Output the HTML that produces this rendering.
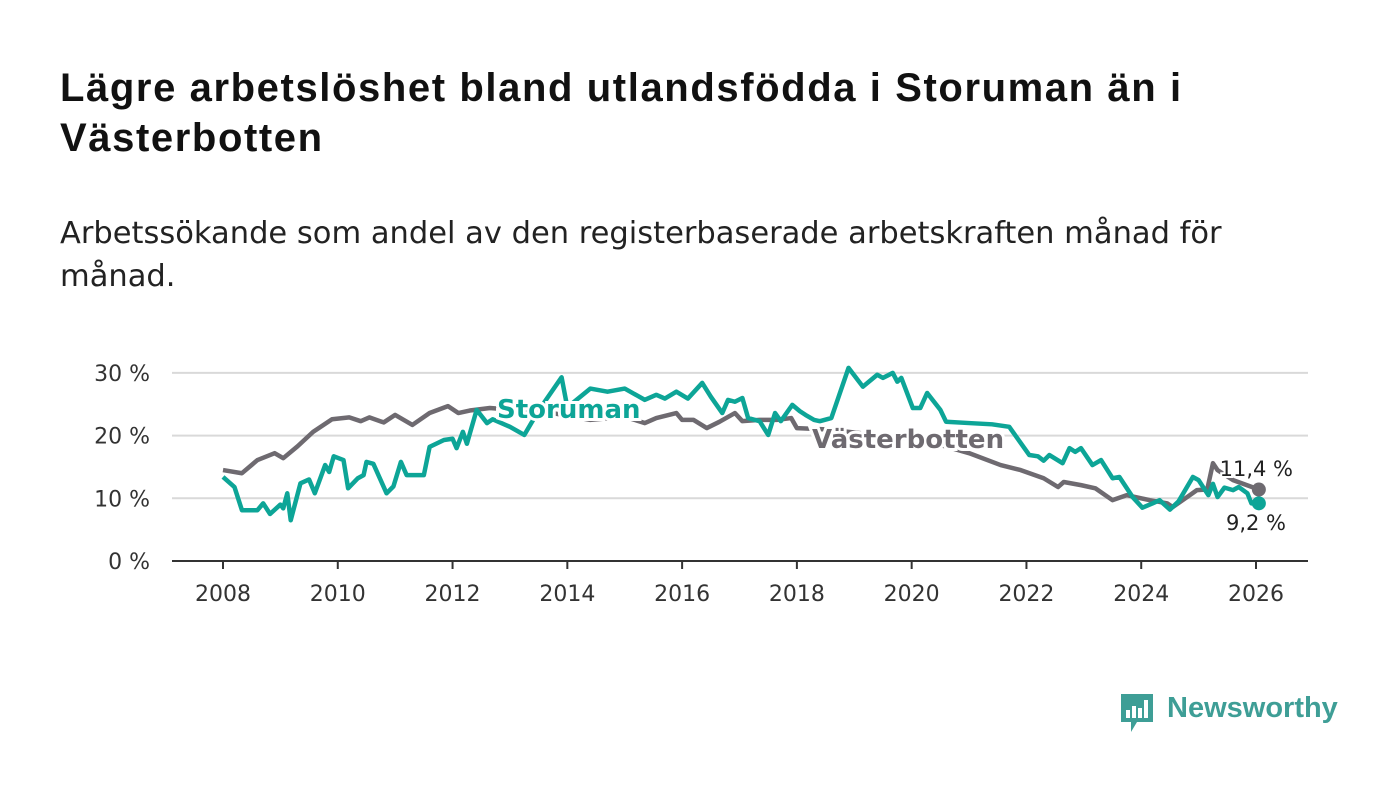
<!DOCTYPE html>
<html><head><meta charset="utf-8">
<style>
body{margin:0;background:#fff;width:1400px;height:794px;overflow:hidden;font-family:"Liberation Sans",sans-serif;}
#title{position:absolute;left:60px;top:63px;width:1180px;font-weight:bold;font-size:40px;letter-spacing:1.6px;line-height:50px;color:#111;}
#sub{position:absolute;left:60px;top:212px;width:1240px;font-family:"DejaVu Sans",sans-serif;font-size:30.5px;line-height:43px;color:#222;}
svg{position:absolute;left:0;top:0;}
</style></head><body>
<div id="title">Lägre arbetslöshet bland utlandsfödda i Storuman än i Västerbotten</div>
<div id="sub">Arbetssökande som andel av den registerbaserade arbetskraften månad för månad.</div>
<svg id="chart" width="1400" height="794"></svg>
<script>
const yTicks=[0,10,20,30];
const xTicks=[2008,2010,2012,2014,2016,2018,2020,2022,2024,2026];
const vbDates=[2008.0,2008.33,2008.6,2008.9,2009.05,2009.3,2009.57,2009.9,2010.2,2010.4,2010.55,2010.8,2011.0,2011.3,2011.6,2011.92,2012.1,2012.3,2012.65,2013.2,2013.8,2014.4,2015.0,2015.35,2015.55,2015.9,2016.0,2016.2,2016.43,2016.65,2016.92,2017.05,2017.35,2017.65,2017.9,2018.0,2018.5,2019.0,2019.5,2020.0,2020.5,2021.0,2021.55,2021.9,2022.3,2022.55,2022.65,2022.95,2023.2,2023.5,2023.75,2024.15,2024.45,2024.55,2024.8,2024.97,2025.15,2025.25,2025.33,2025.6,2026.05];
const vbValues=[14.5,14.0,16.1,17.2,16.4,18.3,20.6,22.6,22.9,22.3,22.9,22.1,23.3,21.7,23.6,24.7,23.6,24.0,24.4,24.0,23.5,22.5,23.0,22.0,22.8,23.6,22.5,22.5,21.2,22.2,23.6,22.3,22.5,22.5,22.8,21.2,21.0,20.5,20.0,19.5,18.5,17.2,15.3,14.5,13.2,11.8,12.6,12.1,11.6,9.7,10.5,9.7,9.2,8.6,10.2,11.3,11.4,15.6,14.5,12.9,11.4];
const stDates=[2008.0,2008.2,2008.33,2008.6,2008.7,2008.82,2009.0,2009.05,2009.12,2009.18,2009.35,2009.5,2009.6,2009.78,2009.85,2009.93,2010.1,2010.18,2010.35,2010.45,2010.5,2010.62,2010.85,2010.97,2011.1,2011.2,2011.5,2011.6,2011.85,2012.0,2012.07,2012.18,2012.25,2012.42,2012.6,2012.7,2013.0,2013.25,2013.5,2013.9,2014.0,2014.4,2014.7,2015.0,2015.35,2015.55,2015.7,2015.9,2016.1,2016.35,2016.5,2016.7,2016.8,2016.92,2017.05,2017.15,2017.35,2017.5,2017.62,2017.72,2017.92,2018.05,2018.15,2018.3,2018.4,2018.6,2018.9,2019.15,2019.4,2019.5,2019.67,2019.75,2019.82,2020.02,2020.15,2020.27,2020.5,2020.6,2021.0,2021.4,2021.7,2022.05,2022.2,2022.3,2022.4,2022.63,2022.75,2022.85,2022.95,2023.15,2023.3,2023.5,2023.62,2023.85,2024.02,2024.2,2024.32,2024.5,2024.65,2024.9,2025.0,2025.17,2025.25,2025.33,2025.45,2025.6,2025.7,2025.85,2025.92,2026.05];
const stValues=[13.4,11.8,8.1,8.1,9.2,7.5,9.0,8.4,10.8,6.5,12.4,13.0,10.8,15.3,14.2,16.7,16.1,11.6,13.2,13.7,15.8,15.5,10.8,11.9,15.8,13.7,13.7,18.2,19.3,19.5,18.0,20.6,18.7,24.1,22.0,22.6,21.4,20.1,24.0,29.3,24.5,27.5,27.0,27.5,25.7,26.5,25.9,27.0,25.9,28.4,26.2,23.6,25.7,25.4,26.0,22.8,22.3,20.1,23.6,22.3,24.9,23.9,23.3,22.5,22.3,22.8,30.8,27.8,29.7,29.2,30.0,28.6,29.2,24.4,24.4,26.8,24.1,22.2,22.0,21.8,21.4,16.9,16.7,16.0,16.9,15.6,18.0,17.4,18.0,15.3,16.1,13.2,13.4,10.2,8.5,9.2,9.7,8.2,9.5,13.4,12.9,10.5,12.3,10.2,11.7,11.3,11.8,10.8,9.2,9.2];

const svg=document.getElementById('chart');
const NS='http://www.w3.org/2000/svg';
const x0=223,x1=1256,y0=561,pxPerPct=6.27;
function X(d){return x0+(d-2008)/18*(x1-x0);}
function Y(v){return y0-v*pxPerPct;}
function mk(t,a){const e=document.createElementNS(NS,t);for(const k in a)e.setAttribute(k,a[k]);svg.appendChild(e);return e;}

yTicks.forEach(v=>{
  if(v>0){const g=mk('line',{x1:172,x2:1308,y1:Y(v),y2:Y(v),stroke:'#d9d9d9','stroke-width':2});
  
  }
  const t=mk('text',{x:150,y:Y(v)+8,'text-anchor':'end','font-family':'DejaVu Sans, sans-serif','font-size':22,fill:'#333'});
  t.textContent=v+' %';
  
  
});
const ax=mk('line',{x1:172,x2:1308,y1:y0,y2:y0,stroke:'#333','stroke-width':2});


xTicks.forEach(d=>{
  const tk=mk('line',{x1:X(d),x2:X(d),y1:y0,y2:y0+8,stroke:'#333','stroke-width':2});
  
  
  const t=mk('text',{x:X(d),y:601,'text-anchor':'middle','font-family':'DejaVu Sans, sans-serif','font-size':22,fill:'#333'});
  t.textContent=d;
  
  
});
function line(dates,vals,col,name){
  const p=mk('polyline',{points:dates.map((d,i)=>X(d)+','+Y(vals[i])).join(' '),fill:'none',stroke:col,'stroke-width':4.5,'stroke-linejoin':'round'});
  
  
}
line(vbDates,vbValues,'#6e6a70','vasterbotten-line');
line(stDates,stValues,'#0da597','storuman-line');
const n1=vbDates.length-1,n2=stDates.length-1;
const c1=mk('circle',{cx:X(vbDates[n1]),cy:Y(vbValues[n1]),r:7,fill:'#6e6a70'});


const c2=mk('circle',{cx:X(stDates[n2]),cy:Y(stValues[n2]),r:7,fill:'#0da597'});


function lbl(x,y,txt,col,name,bold,size,anchor){
  const t=mk('text',{x:x,y:y,'font-family':'DejaVu Sans, sans-serif','font-weight':bold?'bold':'normal','font-size':size,fill:col,stroke:'#fff','stroke-width':bold?6:4,'paint-order':'stroke','text-anchor':anchor||'start'});
  t.textContent=txt;
  
  
}
lbl(497,418,'Storuman','#0da597','storuman-label',true,26);
lbl(812,448,'Västerbotten','#6e6a70','vasterbotten-label',true,26);
lbl(1293,476,vbValues[n1].toFixed(1).replace('.',',')+' %','#222','vasterbotten-value-label',false,21,'end');
lbl(1286,530,stValues[n2].toFixed(1).replace('.',',')+' %','#222','storuman-value-label',false,21,'end');
</script>
<div style="position:absolute;left:1119px;top:692px;height:42px;">
 <svg width="36" height="42" style="position:absolute;left:0;top:0">
  <path d="M2 2 H34 V30 H18 L12 40 V30 H2 Z" fill="#3e9e96"/>
  <rect x="7" y="18" width="4" height="8" fill="#fff"/><rect x="13" y="14" width="4" height="12" fill="#fff"/><rect x="19" y="16" width="4" height="10" fill="#fff"/><rect x="25" y="8" width="4" height="18" fill="#fff"/>
 </svg>
 <span style="position:absolute;left:48px;top:0;font-family:'Liberation Sans',sans-serif;font-weight:bold;font-size:29px;color:#3e9e96;white-space:nowrap">Newsworthy</span>
</div>
</body></html>
